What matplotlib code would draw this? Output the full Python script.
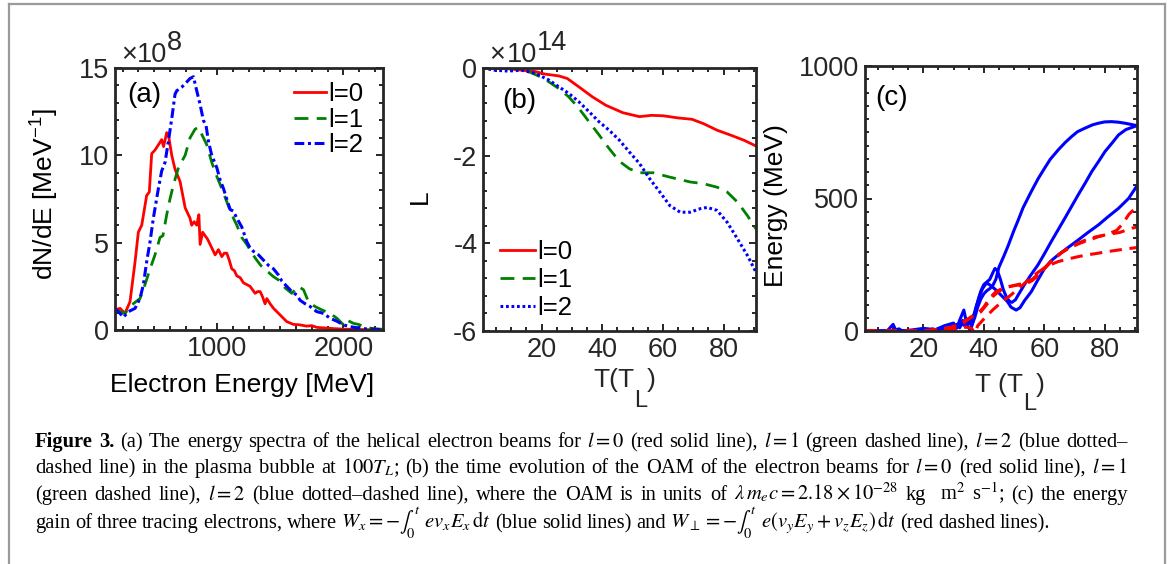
import numpy as np
import matplotlib
matplotlib.use("Agg")
import matplotlib.pyplot as plt
from matplotlib.ticker import MultipleLocator
from matplotlib.lines import Line2D

plt.rcParams['font.family'] = ['Liberation Sans', 'DejaVu Sans']
plt.rcParams['mathtext.fontset'] = 'custom'
plt.rcParams['mathtext.rm'] = 'Liberation Sans'
plt.rcParams['mathtext.it'] = 'Liberation Sans:italic'
plt.rcParams['mathtext.bf'] = 'Liberation Sans:bold'
plt.rcParams['axes.unicode_minus'] = False

# ---- (a) energy spectra, dN/dE in units of 1e8 per MeV
e_l0 = [190, 230, 269, 309, 349, 375, 402, 441, 462, 481, 507, 534, 560, 575, 600, 613, 640, 666, 706,
        746, 785, 798, 818, 838, 855, 865, 885, 904, 924, 944, 964, 984, 1010, 1037, 1056, 1076, 1096,
        1116, 1136, 1156, 1182, 1209, 1235, 1261, 1281, 1301, 1321, 1341, 1360, 1380, 1394, 1420, 1447,
        1480, 1513, 1552, 1605, 1650, 1711, 1750, 1790, 1850, 1923, 2000, 2100, 2200, 2314]
n_l0 = [1.15, 1.24, 0.95, 1.62, 3.9, 5.6, 6.0, 7.7, 7.9, 10.1, 10.3, 10.6, 10.9, 10.5, 11.3, 11.2, 10.0,
        9.2, 8.5, 7.0, 6.4, 6.0, 6.2, 6.0, 6.6, 4.9, 5.6, 5.4, 5.2, 4.9, 4.6, 4.3, 4.6, 4.2, 4.4, 4.4,
        4.0, 3.5, 3.4, 3.1, 3.0, 2.7, 2.6, 2.5, 2.3, 2.1, 2.2, 2.2, 1.9, 1.5, 1.8, 1.5, 1.24, 1.0, 0.76,
        0.48, 0.32, 0.3, 0.22, 0.25, 0.15, 0.12, 0.08, 0.05, 0.03, 0.02, 0.0]
e_l1 = [190, 230, 269, 322, 388, 428, 468, 507, 547, 570, 600, 626, 653, 693, 746, 785, 825, 851, 878,
        918, 957, 997, 1037, 1076, 1116, 1156, 1195, 1235, 1275, 1314, 1367, 1407, 1447, 1500, 1540,
        1592, 1645, 1685, 1725, 1777, 1830, 1896, 1950, 2002, 2028, 2081, 2121, 2187, 2267, 2314]
n_l1 = [1.15, 1.05, 0.95, 1.43, 1.8, 2.6, 3.5, 4.3, 5.3, 5.4, 6.6, 7.5, 8.3, 9.3, 10.0, 11.0, 11.5, 11.6,
        11.2, 10.6, 9.6, 8.8, 8.1, 7.35, 6.6, 6.0, 5.3, 4.9, 4.4, 4.0, 3.5, 3.3, 3.05, 2.8, 2.4, 2.1,
        2.5, 2.3, 1.6, 1.34, 1.15, 0.95, 0.67, 0.29, 0.57, 0.38, 0.32, 0.13, 0.06, 0.04]
e_l2 = [190, 230, 256, 296, 349, 388, 415, 441, 468, 494, 534, 560, 587, 613, 640, 666, 680, 719, 759,
        785, 812, 838, 865, 891, 912, 931, 957, 997, 1023, 1050, 1076, 1103, 1129, 1156, 1195, 1235,
        1261, 1288, 1328, 1367, 1407, 1447, 1486, 1513, 1552, 1592, 1632, 1658, 1698, 1738, 1790, 1844,
        1896, 1950, 2002, 2055, 2108, 2187, 2314]
n_l2 = [1.24, 0.95, 0.73, 1.05, 1.24, 1.8, 2.6, 3.9, 5.06, 6.4, 8.1, 9.1, 9.6, 10.8, 12.1, 13.5, 13.7,
        13.9, 14.2, 14.4, 14.5, 13.7, 12.9, 12.0, 11.7, 10.8, 10.0, 9.3, 8.6, 8.1, 7.5, 6.9, 6.8, 6.4,
        5.9, 5.06, 4.7, 4.5, 4.3, 4.0, 3.7, 3.5, 3.15, 2.8, 2.5, 2.2, 2.0, 1.7, 1.5, 1.34, 1.05, 0.95,
        0.67, 0.5, 0.29, 0.19, 0.13, 0.06, 0.02]

# ---- (b) OAM evolution, L in units of 1e14
t_b0 = [0.7, 6.8, 13.4, 17.9, 21.2, 25.7, 28.5, 32.3, 36.8, 41.2, 46.8, 52.3, 56.2, 60.1, 65.1, 69.6,
        73.4, 77.9, 82.3, 86.8, 90.7]
L_b0 = [0, 0, -0.05, -0.08, -0.14, -0.18, -0.24, -0.43, -0.66, -0.85, -1.02, -1.11, -1.08, -1.09, -1.14,
        -1.17, -1.27, -1.42, -1.53, -1.65, -1.78]
t_b1 = [0.7, 11.2, 15.7, 19.6, 22.3, 25.7, 29, 32.3, 35.7, 39, 42.3, 45.7, 49, 52.3, 56.8, 62.3, 69,
        73.4, 77.9, 81.2, 84.6, 87.9, 90.7]
L_b1 = [0, 0, -0.08, -0.2, -0.31, -0.47, -0.66, -0.92, -1.23, -1.53, -1.84, -2.13, -2.30, -2.39, -2.39,
        -2.49, -2.60, -2.64, -2.72, -2.83, -3.06, -3.37, -3.67]
t_b2 = [0.7, 4.6, 9, 13.4, 17.9, 22.3, 25.7, 29, 32.3, 35.7, 39, 42.3, 45.7, 49, 52.3, 55.7, 59, 62.3,
        65.7, 69, 72.3, 74.6, 77.9, 81.2, 84.6, 87.9, 90.7]
L_b2 = [0, -0.05, -0.07, -0.05, -0.12, -0.27, -0.43, -0.58, -0.77, -1.0, -1.23, -1.42, -1.65, -1.92,
        -2.18, -2.53, -2.83, -3.14, -3.29, -3.29, -3.21, -3.18, -3.25, -3.52, -3.90, -4.28, -4.66]

# ---- (c) energy gain of three tracing electrons (MeV)
t_wx1 = [0.7, 5, 10, 12, 13, 15, 18, 20, 21, 23, 25, 27, 28, 29, 30, 31, 32, 33, 34, 35, 36, 37, 38, 39,
         40, 41, 42, 43, 44, 45, 46.8, 48, 50, 51.2, 53, 55.7, 58, 60.1, 62, 64.6, 67, 69, 71, 73.4, 76,
         77.9, 80, 82.3, 84.5, 86.8, 88.5, 90.7]
w_wx1 = [0, 0, 2, 8, 0, 3, 0, 5, 0, 8, 3, 15, 5, 20, 10, 25, 12, 30, 15, 35, 20, 50, 90, 120, 140, 152,
         160, 172, 195, 240, 287, 320, 380, 413, 465, 526, 575, 614, 648, 683, 712, 733, 752, 765, 778,
         784, 789, 790, 788, 784, 780, 775]
t_wx2 = [0.7, 10, 20, 25, 28, 30, 32, 33, 34, 35, 36, 37, 38, 39, 40, 41, 42, 43, 43.7, 44.5, 45.5,
         46.5, 47.5, 48.5, 49.3, 50.5, 51.5, 53.4, 55.5, 57.9, 60, 62.3, 64.5, 66.8, 69, 71.2, 73.5,
         75.7, 78, 80.1, 82.5, 84.6, 87, 90.7]
w_wx2 = [0, 0, 3, 6, 10, 18, 25, 40, 20, 30, 45, 70, 110, 150, 175, 185, 195, 220, 236, 228, 195, 155,
         128, 112, 108, 118, 138, 174, 210, 249, 290, 337, 380, 425, 469, 513, 557, 601, 640, 677, 710,
         740, 760, 775]
t_wx3 = [0.7, 8, 10, 11, 15, 20, 24, 27, 30, 31, 32, 33.4, 34.5, 35.7, 36.5, 37.3, 38.5, 39.6, 40.5,
         41.2, 42.5, 44, 46, 47.9, 49, 50.7, 52, 53.5, 55.7, 58, 60.1, 62.3, 64.6, 68, 71.2, 74.5, 77.9,
         81, 84.6, 87.9, 90.7]
w_wx3 = [0, 0, 25, 0, 2, 10, 5, 20, 30, 10, 40, 79, 20, 5, 40, 85, 130, 160, 175, 180, 170, 155, 132,
         110, 90, 79, 88, 115, 148, 195, 236, 265, 287, 316, 343, 372, 400, 430, 463, 500, 548]
t_wp1 = [0.7, 20, 28, 32, 34, 36, 38, 40, 42, 44, 46, 48, 50, 52, 54, 56, 58, 60, 62, 64, 66, 68, 70,
         72, 74, 76, 78, 80, 82, 84, 86, 88, 90.7]
w_wp1 = [0, 0, 10, 25, 40, 55, 65, 90, 125, 148, 160, 167, 171, 174, 178, 190, 210, 235, 258, 278, 298,
         312, 322, 332, 340, 348, 356, 362, 370, 380, 405, 440, 470]
t_wp2 = [0.7, 25, 30, 34, 36, 37, 38, 40, 43, 46, 49, 52, 55, 58, 61, 64.6, 68, 71, 74, 77, 80, 83, 86,
         88, 90.7]
w_wp2 = [0, 0, 5, 15, 10, -10, 20, 45, 80, 110, 136, 165, 195, 222, 245, 262, 272, 280, 287, 292, 298,
         303, 308, 311, 315]
t_wp3 = [0.7, 20, 26, 30, 33, 35, 37, 39, 41, 43, 45, 47, 50, 53, 56, 59, 62, 65, 68, 71, 74, 77, 80,
         83, 85, 87, 89, 90.7]
w_wp3 = [0, 0, 8, 15, 28, 45, 60, 72, 100, 130, 150, 162, 172, 180, 195, 225, 260, 290, 312, 330, 345,
         355, 362, 368, 372, 380, 388, 392]

caption = [
    r"Figure 3. (a) The energy spectra of the helical electron beams for $\mathit{l}=0$ (red solid line), "
    r"$\mathit{l}=1$ (green dashed line), $\mathit{l}=2$ (blue dotted–",
    r"dashed line) in the plasma bubble at $100T_L$; (b) the time evolution of the OAM of the electron "
    r"beams for $\mathit{l}=0$ (red solid line), $\mathit{l}=1$",
    r"(green dashed line), $\mathit{l}=2$ (blue dotted–dashed line), where the OAM is in units of "
    r"$\lambda\,m_ec=2.18\times10^{-28}$ kg  m$^2$ s$^{-1}$; (c) the energy",
    r"gain of three tracing electrons, where $W_x=-\int_0^t\;\,ev_xE_x\,\mathrm{d}t$ (blue solid lines) "
    r"and $W_\perp=-\int_0^t\;\,e(v_yE_y+v_zE_z)\,\mathrm{d}t$ (red dashed lines).",
]

W, H = 1171, 564
fig = plt.figure(figsize=(W / 100, H / 100), dpi=100)
renderer = fig.canvas.get_renderer()
ink = '#262626'
RED, GREEN, BLUE = '#ff0000', '#008000', '#0000ff'
TICK = 19.5
LAB = 19


def add_box(l, t, r, b):
    return fig.add_axes([l / W, 1 - b / H, (r - l) / W, (b - t) / H])


def style(ax):
    for s in ax.spines.values():
        s.set_linewidth(2.0)
        s.set_color(ink)
    ax.tick_params(which='both', direction='in', top=True, right=True, colors=ink,
                   labelcolor=ink, labelsize=TICK, width=1.4)
    ax.tick_params(which='major', length=5)
    ax.tick_params(which='minor', length=3)
    ax.tick_params(axis='x', pad=4)
    ax.tick_params(axis='y', pad=4)


def pieces(x, items):
    # items: (text, baseline_px, size); laid out left to right starting at x px
    for s, base, size in items:
        t = fig.text(x / W, 1 - base / H, s, fontsize=size, color=ink, va='baseline')
        x += t.get_window_extent(renderer).width


# (a)
ax1 = add_box(115, 68, 383, 330)
style(ax1)
ax1.plot(e_l0, n_l0, color=RED, lw=2, label='l=0')
ax1.plot(e_l1, n_l1, color=GREEN, lw=2, ls=(0, (5, 3)), label='l=1')
ax1.plot(e_l2, n_l2, color=BLUE, lw=2.2, ls=(0, (3.2, 1.2, 1, 1.2)), label='l=2')
ax1.set_xlim(190, 2315)
ax1.set_ylim(0, 15)
ax1.set_xticks([1000, 2000])
ax1.set_yticks([0, 5, 10, 15])
ax1.xaxis.set_minor_locator(MultipleLocator(125))
ax1.yaxis.set_minor_locator(MultipleLocator(1))
ax1.set_xlabel('Electron Energy [MeV]', fontsize=LAB)
ax1.set_ylabel(r'dN/dE [MeV$^{\mathrm{-1}}$]', fontsize=LAB)
ax1.xaxis.set_label_coords(0.474, -0.165)
ax1.yaxis.set_label_coords(-0.2, 0.52)
ax1.text(0.045, 0.945, '(a)', transform=ax1.transAxes, fontsize=20, va='top', color='k')
ax1.legend(loc='upper right', bbox_to_anchor=(0.925, 0.945), frameon=False, fontsize=18.5,
           handlelength=1.25, handletextpad=0.08, labelspacing=0.05, borderpad=0, borderaxespad=0)
pieces(121, [('×', 62, TICK)])
pieces(137, [('10', 62, TICK), ('8', 50, TICK)])

# (b)
ax2 = add_box(483, 68, 756, 331)
style(ax2)
ax2.plot(t_b0, L_b0, color=RED, lw=2, label='l=0')
ax2.plot(t_b1, L_b1, color=GREEN, lw=2, ls=(0, (5, 3)), label='l=1')
ax2.plot(t_b2, L_b2, color=BLUE, lw=2.2, ls=(0, (0.9, 0.9)), label='l=2')
ax2.set_xlim(0.7, 90.7)
ax2.set_ylim(-6, 0)
ax2.set_xticks([20, 40, 60, 80])
ax2.set_yticks([-6, -4, -2, 0])
ax2.xaxis.set_minor_locator(MultipleLocator(5))
ax2.yaxis.set_minor_locator(MultipleLocator(0.4))
ax2.set_ylabel('L', fontsize=LAB)
ax2.yaxis.set_label_coords(-0.187, 0.51)
ax2.text(0.07, 0.925, '(b)', transform=ax2.transAxes, fontsize=20, va='top', color='k')
ax2.legend(loc='lower left', bbox_to_anchor=(0.062, 0.042), frameon=False, fontsize=18.5,
           handlelength=1.36, handletextpad=0.08, labelspacing=0.15, borderpad=0, borderaxespad=0)
pieces(489, [('×', 62, TICK)])
pieces(507, [('10', 62, TICK), ('14', 50, TICK)])
pieces(593, [('T(T', 387, LAB), ('L', 407, 17), (')', 387, LAB)])

# (c) -- red dashed W_perp drawn over the blue W_x lines
ax3 = add_box(865, 66, 1137, 331)
style(ax3)
for t, w in [(t_wx1, w_wx1), (t_wx2, w_wx2), (t_wx3, w_wx3)]:
    ax3.plot(t, w, color=BLUE, lw=2.2)
for t, w in [(t_wp1, w_wp1), (t_wp2, w_wp2), (t_wp3, w_wp3)]:
    ax3.plot(t, w, color=RED, lw=2.2, ls=(0, (4, 2.5)))
ax3.set_xlim(0.7, 90.7)
ax3.set_ylim(0, 1000)
ax3.set_xticks([20, 40, 60, 80])
ax3.set_yticks([0, 500, 1000])
ax3.xaxis.set_minor_locator(MultipleLocator(5))
ax3.yaxis.set_minor_locator(MultipleLocator(50))
ax3.set_ylabel('Energy (MeV)', fontsize=LAB)
ax3.yaxis.set_label_coords(-0.283, 0.475)
ax3.text(0.037, 0.93, '(c)', transform=ax3.transAxes, fontsize=20, va='top', color='k')
pieces(975, [('T (T', 392, LAB), ('L', 410, 17), (')', 392, LAB)])

# outer frame (open at the bottom)
for xs, ys in [([9, 9], [4, 564]), ([9, 1165], [4, 4]), ([1165, 1165], [4, 564])]:
    fig.add_artist(Line2D([x / W for x in xs], [1 - y / H for y in ys], transform=fig.transFigure,
                          color='#9a9a9a', lw=1.6))

# caption, justified like the journal layout
x0, x1 = 35, 1128
baselines = [447, 473, 500, 528]
for i, line in enumerate(caption):
    words = line.split(' ')
    texts = []
    for j, word in enumerate(words):
        bold = i == 0 and j < 2
        texts.append(fig.text(0, 1 - baselines[i] / H, word, fontsize=14.8,
                              family=['Liberation Serif', 'DejaVu Serif'], math_fontfamily='stix',
                              weight='bold' if bold else 'normal', va='baseline', color='k'))
    widths = [t.get_window_extent(renderer).width for t in texts]
    if i < len(caption) - 1:
        gap = (x1 - x0 - sum(widths)) / (len(words) - 1)
    else:
        gap = 4.5
    x = x0
    for t, w in zip(texts, widths):
        t.set_x(x / W)
        x += w + gap

fig.savefig('out.png', dpi=100)
